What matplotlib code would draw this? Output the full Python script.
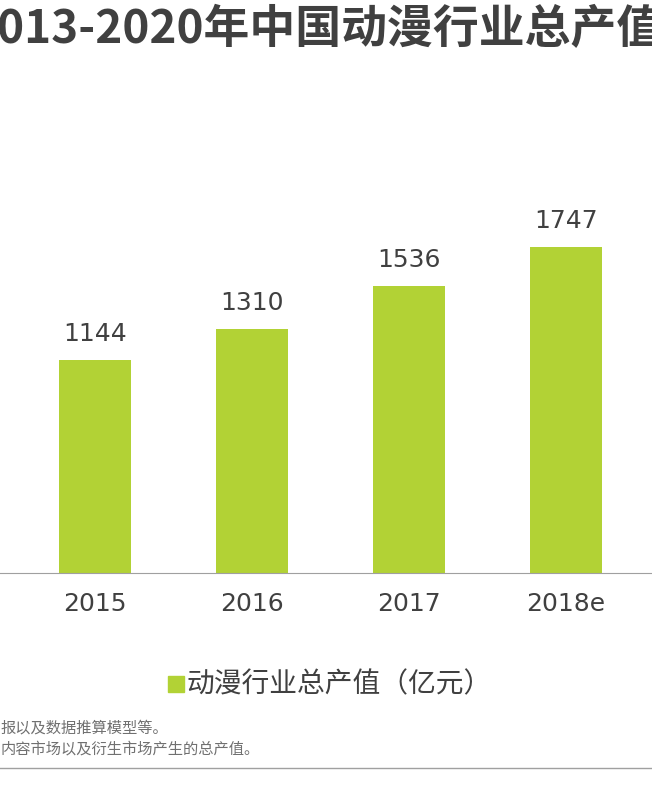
import matplotlib
matplotlib.use("Agg")
import matplotlib.pyplot as plt

plt.rcParams['font.family'] = ['Noto Sans CJK SC', 'DejaVu Sans']

years = ["2015", "2016", "2017", "2018e"]
values = [1144, 1310, 1536, 1747]
legend_label = "动漫行业总产值（亿元）"
title = "2013-2020年中国动漫行业总产值"
notes = ["报以及数据推算模型等。", "内容市场以及衍生市场产生的总产值。"]

W, H = 652, 810
fig = plt.figure(figsize=(W/100, H/100), dpi=100)
base = 573
top = 100
ax = fig.add_axes([0, 1 - base/H, 1, (base - top)/H])
green = "#b2d235"
x = list(range(len(years)))
ax.bar(x, values, width=0.46, color=green, label=legend_label)
ax.set_xlim(-95/157, (652-95)/157)
ax.set_ylim(0, (base - top)/0.1866)
for xi, v in zip(x, values):
    ax.text(xi, v + 75, str(v), ha='center', va='bottom', fontsize=18,
            color='#404040', family='DejaVu Sans')
for s in ['top', 'right', 'left']:
    ax.spines[s].set_visible(False)
ax.spines['bottom'].set_color('#a0a0a0')
ax.set_yticks([])
ax.set_xticks(x)
ax.set_xticklabels(years, fontsize=18, color='#404040', family='DejaVu Sans')
ax.tick_params(axis='x', length=0, pad=14)

fig.text(-30/W, 1 - 30/H, title, fontsize=33, fontweight='bold', color='#404040',
         va='center', ha='left', clip_on=False)

# legend
fig.patches.append(plt.Rectangle((168/W, 1 - 692/H), 16/W, 16/H, color=green, transform=fig.transFigure))
fig.text(187/W, 1 - 684/H, legend_label, fontsize=20, color='#404040', va='center', ha='left')

fig.text(0, 1 - 728/H, notes[0], fontsize=11, color='#707070', va='center', ha='left')
fig.text(0, 1 - 749/H, notes[1], fontsize=11, color='#707070', va='center', ha='left')
fig.add_artist(plt.Line2D([0, 1], [1 - 768/H, 1 - 768/H], color='#a0a0a0', lw=1, transform=fig.transFigure))

fig.savefig("out.png", dpi=100)
